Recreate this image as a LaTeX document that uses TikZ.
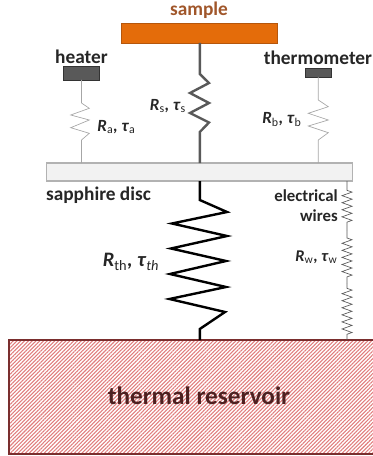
\documentclass[tikz,border=0pt]{standalone}
\usepackage{fontspec}
\setmainfont{Carlito}
\usetikzlibrary{decorations.pathmorphing,patterns.meta}
\definecolor{sampleorange}{HTML}{E46C0A}
\definecolor{sampleedge}{HTML}{B5560C}
\definecolor{sampletext}{HTML}{A0562A}
\definecolor{blockgrey}{HTML}{595959}
\definecolor{discgrey}{HTML}{F2F2F2}
\definecolor{labeltext}{HTML}{262626}
\definecolor{hatchred}{HTML}{E07C7C}
\definecolor{reservoiredge}{HTML}{7A2E2E}
\definecolor{reservoirtext}{HTML}{4D2020}
\tikzset{
	block label/.style={text=labeltext, font=\bfseries\fontsize{14.5}{17}\selectfont, inner sep=0pt},
	rtau label/.style={text=labeltext, font=\fontsize{12.8}{15}\selectfont, inner sep=0pt},
	block/.style={draw=black!80, fill=blockgrey, line width=0.6pt, inner sep=0pt, outer sep=0pt},
	thin link/.style={draw=black!35, line width=0.5pt},
	wire/.style={draw=black!65, line width=0.5pt, decorate, decoration={zigzag, segment length=5.3pt, amplitude=3.75pt, #1}},
}
\newcommand{\rtau}[2]{\textbf{\textit{R}}\textsubscript{#1}\textbf{\textit{,}} \textbf{\textit{τ}}\textsubscript{#2}}
\begin{document}
\begin{tikzpicture}[x=0.75pt, y=-0.75pt]
	\useasboundingbox (0,0) rectangle (373,456);
	\node[draw=sampleedge, fill=sampleorange, line width=0.7pt, inner sep=0pt, outer sep=0pt, minimum width=117pt, minimum height=15pt] (sample) at (199.8,33) {};
	\node[block, minimum width=26.5pt, minimum height=10.5pt] (heater) at (81.5,73) {};
	\node[block, minimum width=20pt, minimum height=6.8pt] (thermometer) at (318.3,72.5) {};
	\node[draw=black!30, fill=discgrey, line width=0.8pt, inner sep=0pt, outer sep=0pt, minimum width=229.5pt, minimum height=13.5pt] (disc) at (199.8,172) {};
	\node[draw=reservoiredge, pattern={Lines[angle=45, distance=2pt, line width=0.8pt]}, pattern color=hatchred, line width=0.9pt, inner sep=0pt, outer sep=0pt, minimum width=275.5pt, minimum height=85.5pt] (reservoir) at (192.7,397) {};

	% block labels
	\node[block label, text=sampletext] (sampletxt) at (199,10) {sample};
	\node[block label] (heatertxt) at (81.5,57) {heater};
	\node[block label] (thermometertxt) at (318,58) {thermometer};
	\node[block label] (disctxt) at (98.5,195) {sapphire disc};
	\node[rtau label, font=\bfseries\fontsize{12.6}{15}\selectfont, align=right, anchor=east] (wirestxt) at (338,206) {electrical\\wires};
	\node[block label, text=reservoirtext, font=\bfseries\fontsize{18.9}{22}\selectfont] (reservoirtxt) at (199,396) {thermal reservoir};

	% resistances
	\node[rtau label] (ratxt) at (116.5,127) {\rtau{a}{a}};
	\node[rtau label] (rstxt) at (168,106) {\rtau{s}{s}};
	\node[rtau label] (rbtxt) at (282,119.5) {\rtau{b}{b}};
	\node[rtau label, font=\fontsize{15.4}{18}\selectfont] (rthtxt) at (131,262) {\rtau{th}{\textit{th}}};
	\node[rtau label, font=\fontsize{12.3}{15}\selectfont] (rwtxt) at (316.5,257) {\rtau{w}{w}};

	% links
	\draw[thin link] (heater.south) -- (81.5,103) -- (89.3,108.3) -- (70.7,115) -- (89.3,120) -- (70.7,127.7) -- (89.3,133.3) -- (81.5,140) -- (heater.south |- disc.north);
	\draw[thin link] (thermometer.south) -- (318.3,100) -- (328.3,106.7) -- (308.3,113.3) -- (328.3,120) -- (308.3,126) -- (328.3,132.7) -- (318.3,140) -- (thermometer.south |- disc.north);
	\draw[draw=blockgrey, line width=1.8pt] (sample.south) -- (199.8,74) -- (209,83) -- (190,93) -- (209,103) -- (190,113) -- (209,122.5) -- (199.8,132) -- (disc.north);
	\draw[black, line width=1.8pt] (disc.south) -- (199.8,200) -- (227,212) -- (172,223.5) -- (227,236) -- (171,248.5) -- (226,261) -- (170,274) -- (226,287) -- (169.5,299) -- (225,312) -- (199.8,329) -- (reservoir.north -| disc.south);

	\coordinate (wiretop) at (disc.south -| 347,0);
	\coordinate (wirea) at (347,230);
	\coordinate (wireb) at (347,283);
	\coordinate (wirebot) at (reservoir.north -| 347,0);
	\draw[wire={pre length=7pt, post length=4pt}] (wiretop) -- (wirea);
	\draw[wire={pre length=6pt, post length=4pt}] (wirea) -- (wireb);
	\draw[wire={pre length=4pt, post length=4pt}] (wireb) -- (wirebot);
\end{tikzpicture}
\end{document}
